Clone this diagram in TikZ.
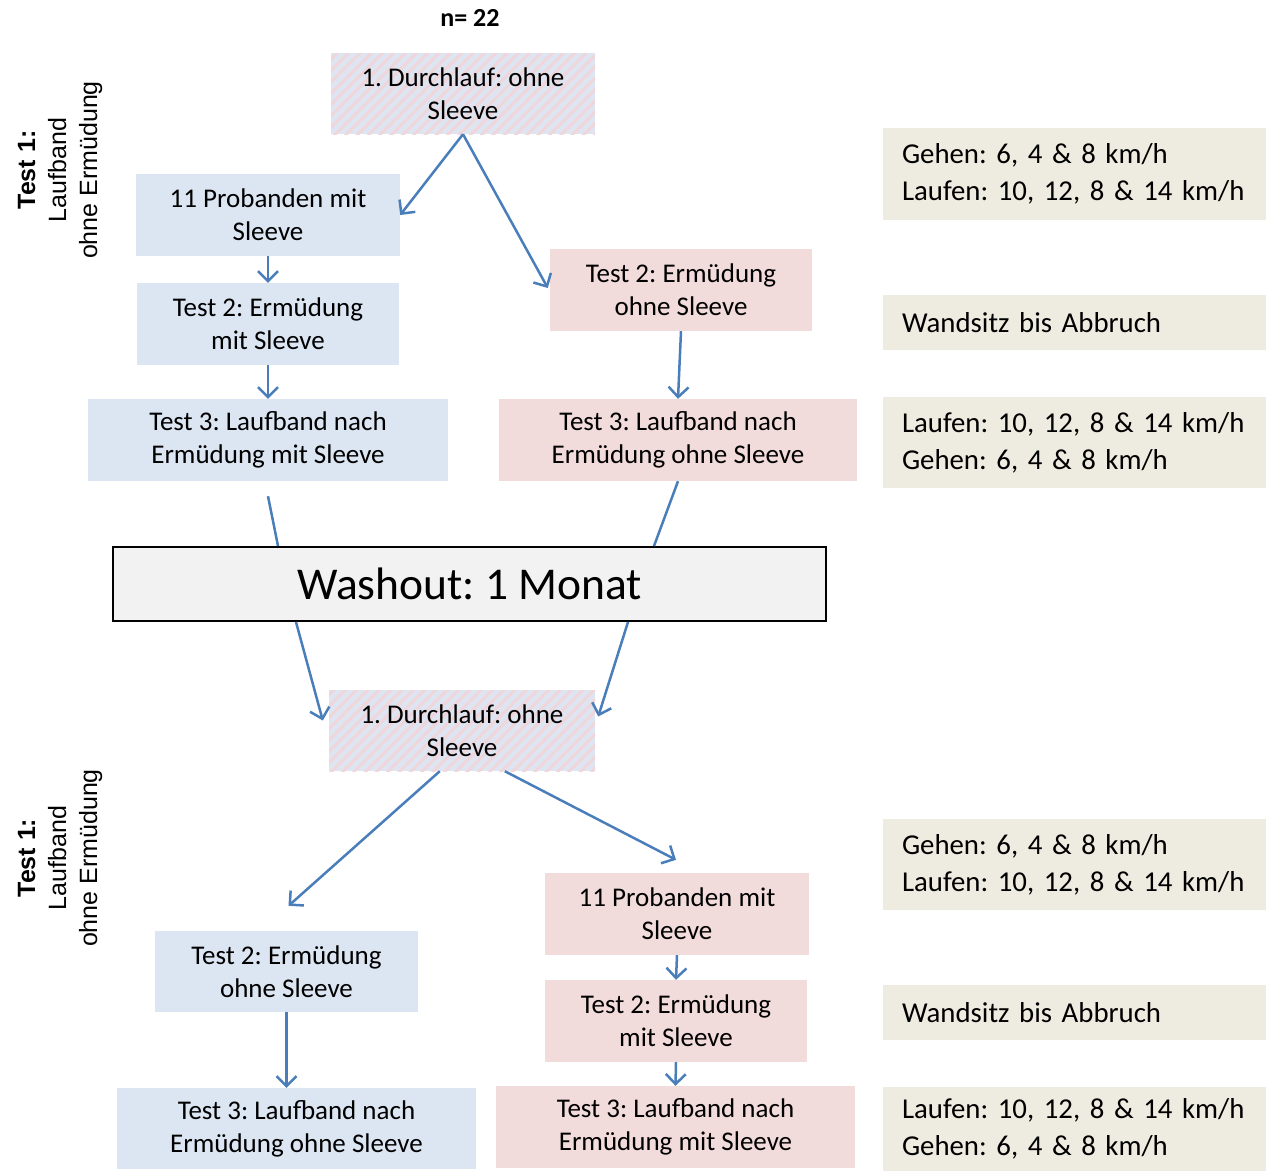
\documentclass[tikz,border=0pt]{standalone}
\usepackage{fontspec}
\setmainfont{Carlito}
\newfontfamily\arialf{Liberation Sans}
\usetikzlibrary{arrows.meta,calc,patterns.meta}
\frenchspacing
\definecolor{bluebox}{HTML}{DCE6F2}
\definecolor{pinkbox}{HTML}{F2DCDB}
\definecolor{beigebox}{HTML}{EEECE1}
\definecolor{washfill}{HTML}{F2F2F2}
\definecolor{arrowblue}{HTML}{4A7EBB}
\definecolor{stripe}{HTML}{F0D6DA}
\definecolor{hatchbase}{HTML}{DEE4F0}
\tikzset{
  base/.style={rectangle, inner sep=0pt, align=center, font=\fontsize{27}{33}\selectfont, text=black},
  bluenode/.style={base, fill=bluebox},
  pinknode/.style={base, fill=pinkbox},
  hatchnode/.style={base, fill=hatchbase, postaction={pattern={Lines[angle=45,distance=8pt,line width=2.8pt]}, pattern color=stripe}},
  infobox/.style={rectangle, fill=beigebox, inner xsep=19pt, inner ysep=0pt, text width=345pt, align=left, font=\fontsize{28.8}{37}\selectfont, minimum width=383pt},
  washbox/.style={rectangle, fill=washfill, draw=black, line width=2pt, minimum width=713pt, minimum height=74pt, inner sep=0pt, font=\fontsize{45.5}{54}\selectfont},
  sidetext/.style={rotate=90, align=center, font=\arialf\fontsize{25}{31}\selectfont},
  conn/.style={draw=arrowblue, line width=2.5pt, -{Straight Barb[length=10pt,width=20pt,line width=2.5pt]}},
  plainconn/.style={draw=arrowblue, line width=2.5pt},
}
\begin{document}
\frenchspacing
\begin{tikzpicture}[x=1pt,y=-1pt]
\useasboundingbox (0,0) rectangle (1266,1171);

\node[font=\bfseries\fontsize{26}{30}\selectfont] (n) at (470,18) {n= 22};

\node[sidetext] (s1) at (60,170) {\textbf{Test 1:}\\Laufband\\ohne Ermüdung};
\node[sidetext] (s2) at (60,858) {\textbf{Test 1:}\\Laufband\\ohne Ermüdung};

% upper part
\node[hatchnode, minimum width=264pt, minimum height=81pt] (D1) at (463,93.5) {1. Durchlauf: ohne\\Sleeve};
\node[bluenode, minimum width=264pt, minimum height=82pt] (L1) at (268,215) {11 Probanden mit\\Sleeve};
\node[bluenode, minimum width=262pt, minimum height=82pt] (L2) at (268,324) {Test 2: Ermüdung\\mit Sleeve};
\node[bluenode, minimum width=360pt, minimum height=82pt] (L3) at (268,440) {Test 3: Laufband nach\\Ermüdung mit Sleeve};
\node[pinknode, minimum width=262pt, minimum height=82pt] (R2) at (681,290) {Test 2: Ermüdung\\ohne Sleeve};
\node[pinknode, minimum width=358pt, minimum height=82pt] (R3) at (678,440) {Test 3: Laufband nach\\Ermüdung ohne Sleeve};

\node[washbox] (W) at (469.5,584) {Washout: 1 Monat};

% lower part
\node[hatchnode, minimum width=266pt, minimum height=81pt] (D2) at (462,730.5) {1. Durchlauf: ohne\\Sleeve};
\node[bluenode, minimum width=263pt, minimum height=81pt] (LL2) at (286.5,971.5) {Test 2: Ermüdung\\ohne Sleeve};
\node[bluenode, minimum width=359pt, minimum height=81pt] (LL3) at (296.5,1128.5) {Test 3: Laufband nach\\Ermüdung ohne Sleeve};
\node[pinknode, minimum width=264pt, minimum height=82pt] (RR1) at (677,914) {11 Probanden mit\\Sleeve};
\node[pinknode, minimum width=262pt, minimum height=82pt] (RR2) at (676,1021) {Test 2: Ermüdung\\mit Sleeve};
\node[pinknode, minimum width=359pt, minimum height=82pt] (RR3) at (675.5,1127) {Test 3: Laufband nach\\Ermüdung mit Sleeve};

% info boxes
\node[infobox, minimum height=92pt] (I1) at (1074.5,174) {\mbox{Gehen: 6, 4 \& 8 km/h}\\\mbox{Laufen: 10, 12, 8 \& 14 km/h}};
\node[infobox, minimum height=55pt] (I2) at (1074.5,322.5) {\mbox{Wandsitz bis Abbruch}};
\node[infobox, minimum height=91pt] (I3) at (1074.5,442.5) {\mbox{Laufen: 10, 12, 8 \& 14 km/h}\\\mbox{Gehen: 6, 4 \& 8 km/h}};
\node[infobox, minimum height=91pt] (I4) at (1074.5,864.5) {\mbox{Gehen: 6, 4 \& 8 km/h}\\\mbox{Laufen: 10, 12, 8 \& 14 km/h}};
\node[infobox, minimum height=55pt] (I5) at (1074.5,1012.5) {\mbox{Wandsitz bis Abbruch}};
\node[infobox, minimum height=84pt] (I6) at (1074.5,1129) {\mbox{Laufen: 10, 12, 8 \& 14 km/h}\\\mbox{Gehen: 6, 4 \& 8 km/h}};

% connectors upper
\draw[conn] (D1.south) -- (L1.east);
\draw[conn] (D1.south) -- ($(R2.west)+(-2,-2)$);
\draw[conn] (L1.south) -- (L2.north);
\draw[conn] (L2.south) -- (L3.north);
\draw[conn] (R2.south) -- (R3.north);
\draw[plainconn] ($(L3.south)+(0,15)$) -- ($(W.north west)+(166,0)$);
\draw[plainconn] (R3.south) -- ($(W.north west)+(542,0)$);

% connectors lower
\draw[conn] ($(W.south west)+(184,0)$) -- ($(D2.west)+(-6,-10)$);
\draw[conn] ($(W.south west)+(516,0)$) -- ($(D2.east)+(3,-14)$);
\draw[conn] ($(D2.south west)+(111,0)$) -- ($(LL2.north)+(2,-25)$);
\draw[conn] ($(D2.south west)+(176,0)$) -- ($(RR1.north)+(-1,-13)$);
\draw[conn] (RR1.south) -- (RR2.north);
\draw[conn] (RR2.south) -- (RR3.north);
\draw[conn] (LL2.south) -- (LL2.south |- LL3.north);
\end{tikzpicture}
\end{document}
